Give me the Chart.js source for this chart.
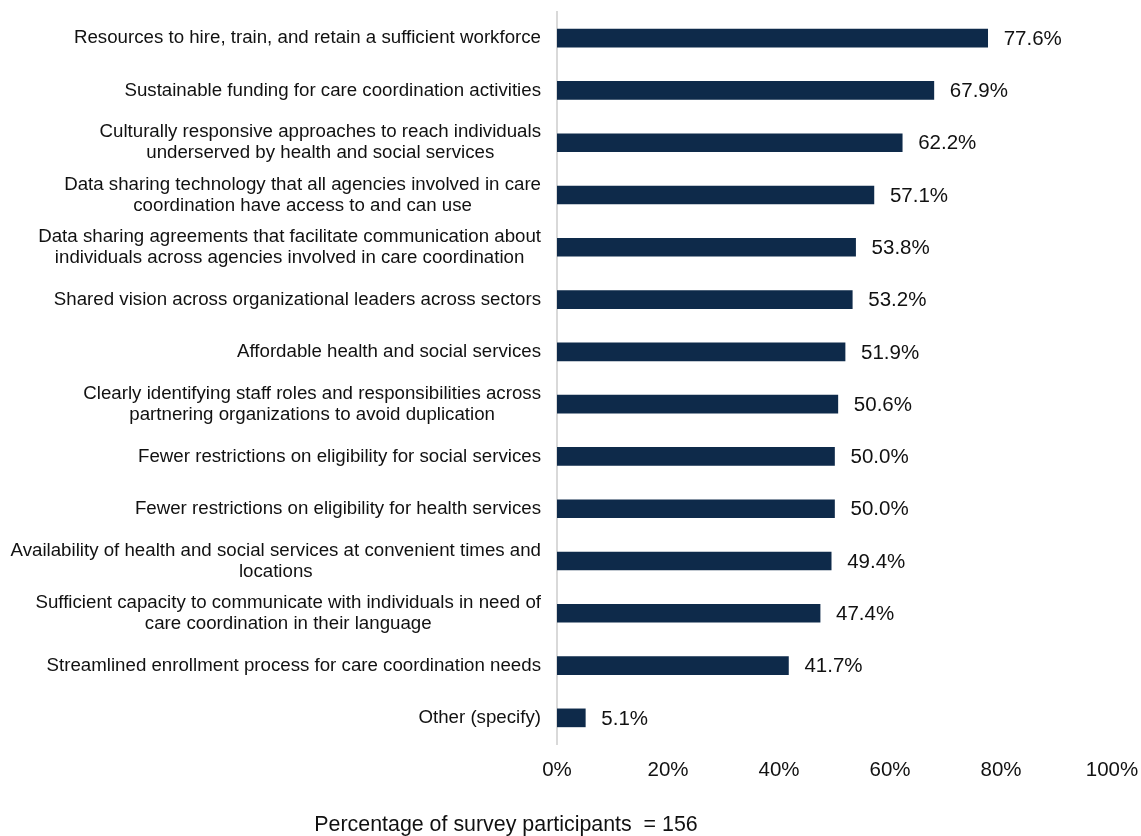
<!DOCTYPE html>
<html>
<head>
<meta charset="utf-8">
<script src="https://cdn.jsdelivr.net/npm/chart.js@4/dist/chart.umd.min.js"></script>
<style>
  html, body { margin: 0; padding: 0; background: #ffffff; }
  canvas { display: block; }
</style>
</head>
<body>
<canvas id="c" width="1141" height="836"></canvas>
<script>
const categories = [
  ["Resources to hire, train, and retain a sufficient workforce"],
  ["Sustainable funding for care coordination activities"],
  ["Culturally responsive approaches to reach individuals", "underserved by health and social services"],
  ["Data sharing technology that all agencies involved in care", "coordination have access to and can use"],
  ["Data sharing agreements that facilitate communication about", "individuals across agencies involved in care coordination"],
  ["Shared vision across organizational leaders across sectors"],
  ["Affordable health and social services"],
  ["Clearly identifying staff roles and responsibilities across", "partnering organizations to avoid duplication"],
  ["Fewer restrictions on eligibility for social services"],
  ["Fewer restrictions on eligibility for health services"],
  ["Availability of health and social services at convenient times and", "locations"],
  ["Sufficient capacity to communicate with individuals in need of", "care coordination in their language"],
  ["Streamlined enrollment process for care coordination needs"],
  ["Other (specify)"]
];
const values = [77.6, 67.9, 62.2, 57.1, 53.8, 53.2, 51.9, 50.6, 50.0, 50.0, 49.4, 47.4, 41.7, 5.1];
const xTicks = [0, 20, 40, 60, 80, 100];
const axisTitle = "Percentage of survey participants  = 156";

const FONT = '"Liberation Sans", Arial, sans-serif';
const TEXT = '#111111';

const labelPlugin = {
  id: 'customLabels',
  afterDraw(chart) {
    const ctx = chart.ctx;
    const area = chart.chartArea;
    const yScale = chart.scales.y;
    ctx.save();
    // category labels: block right-aligned, lines centered within block
    ctx.font = '18.7px ' + FONT;
    ctx.fillStyle = TEXT;
    ctx.textBaseline = 'middle';
    ctx.textAlign = 'center';
    const lh = 21;
    chart.data.labels.forEach((lines, i) => {
      const yc = yScale.getPixelForValue(i);
      let w = 0;
      lines.forEach(l => { w = Math.max(w, ctx.measureText(l).width); });
      const xc = area.left - 16 - w / 2;
      const y0 = yc - (lines.length - 1) * lh / 2;
      lines.forEach((l, k) => ctx.fillText(l, xc, y0 + k * lh));
    });
    // value labels
    ctx.font = '20.5px ' + FONT;
    ctx.textAlign = 'left';
    const meta = chart.getDatasetMeta(0);
    meta.data.forEach((bar, i) => {
      const v = chart.data.datasets[0].data[i];
      ctx.fillText(v.toFixed(1) + '%', bar.x + 16, bar.y + 1);
    });
    // axis title
    ctx.font = '21.4px ' + FONT;
    ctx.textAlign = 'center';
    ctx.textBaseline = 'alphabetic';
    ctx.fillText(axisTitle, area.left - 51, 831);
    ctx.restore();
  }
};

new Chart(document.getElementById('c'), {
  type: 'bar',
  data: {
    labels: categories,
    datasets: [{
      data: values,
      backgroundColor: '#0e2a4a',
      borderWidth: 0,
      barThickness: 18
    }]
  },
  plugins: [labelPlugin],
  options: {
    indexAxis: 'y',
    responsive: false,
    devicePixelRatio: 1,
    animation: false,
    layout: { padding: { top: 12, right: 29, left: 0, bottom: 0 } },
    plugins: { legend: { display: false }, tooltip: { enabled: false } },
    scales: {
      x: {
        min: 0,
        max: 100,
        afterBuildTicks(scale) { scale.ticks = xTicks.map(v => ({ value: v })); },
        ticks: {
          callback: v => v + '%',
          font: { family: FONT, size: 20.5 },
          color: TEXT,
          padding: 14,
          maxRotation: 0
        },
        grid: { display: false, drawTicks: false },
        border: { display: false },
        afterFit(scale) {
          scale.height = 92;
          scale.paddingLeft = 0;
          scale.paddingRight = 0;
        }
      },
      y: {
        ticks: { display: false },
        grid: { display: false, drawTicks: false },
        border: { display: true, color: '#d9d9d9', width: 2 },
        afterFit(scale) { scale.width = 557; }
      }
    }
  }
});
</script>
</body>
</html>
